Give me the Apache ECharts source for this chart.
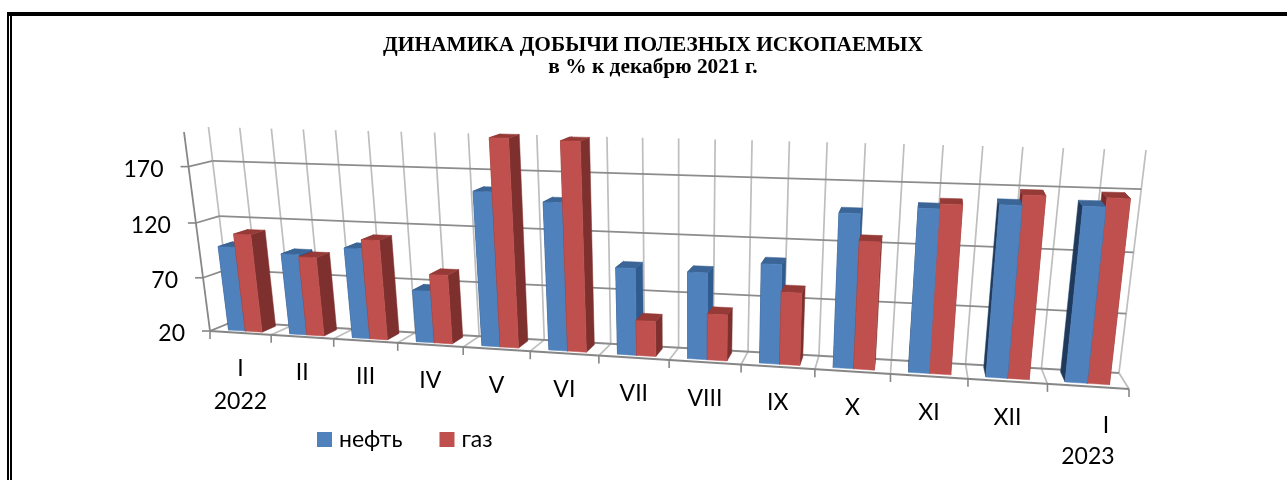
<!DOCTYPE html>
<html><head><meta charset="utf-8">
<style>html,body{margin:0;padding:0;background:#fff}#c{width:1287px;height:480px}</style>
<script src="https://cdn.jsdelivr.net/npm/echarts@6/dist/echarts.min.js"></script>
</head><body><div id="c"></div>
<script>
const categories = ['I','II','III','IV','V','VI','VII','VIII','IX','X','XI','XII','I'];
const years = ['2022','','','','','','','','','','','','2023'];
const oil = [98,94,102,67,156,149,96,95,105,149,155,160,161];
const gas = [110,92,110,82,201,200,51,60,82,127,159,168,168];
const yTicks = [20,70,120,170];
const yMin = 20, yMax = 200;

// perspective frame of the 3D chart box
const back  = quad([232,322],[1119,373],[1146,150],[208.5,127]);
const front = quad([210,331],[1129,389],[1156,158],[184,132]);
function quad(p0,p1,p2,p3){
  const dx1=p1[0]-p2[0],dx2=p3[0]-p2[0],sx=p0[0]-p1[0]+p2[0]-p3[0];
  const dy1=p1[1]-p2[1],dy2=p3[1]-p2[1],sy=p0[1]-p1[1]+p2[1]-p3[1];
  const den=dx1*dy2-dx2*dy1, g=(sx*dy2-dx2*sy)/den, h=(dx1*sy-sx*dy1)/den;
  const a=p1[0]-p0[0]+g*p1[0], b=p3[0]-p0[0]+h*p3[0], c=p0[0];
  const d=p1[1]-p0[1]+g*p1[1], e=p3[1]-p0[1]+h*p3[1], f=p0[1];
  return (u,w)=>{const q=g*u+h*w+1;return [(a*u+b*w+c)/q,(d*u+e*w+f)/q];};
}
function proj(u,w,depth){
  const F=front(u,w),B=back(u,w);
  return [F[0]+(B[0]-F[0])*depth,F[1]+(B[1]-F[1])*depth];
}
// pixel position in the (hidden) cartesian grid -> unit box coords, via the library's scales
function unit(params,px,py){
  const r=params.coordSys;
  return [(px-r.x)/r.width,(r.y+r.height-py)/r.height];
}
const D0=0.2,D1=0.84;
const SLOTS={oil:[0.235,0.51],gas:[0.51,0.785]};
const COL={
  oil:{front:'#4F81BD',top:'#3A6596',right:'#2F5B8E',left:'#1F3A5C'},
  gas:{front:'#C0504D',top:'#963A37',right:'#7D302E',left:'#7A2A28'}
};
function poly(points,fill,z2){
  return {type:'polygon',z2,shape:{points},style:{fill,stroke:fill,lineWidth:0.5}};
}
function barRenderer(key){
  return function(params,api){
    const i=api.value(0),v=api.value(1);
    const band=api.size([1,0])[0];
    const c0=api.coord([i,yMin]),c1=api.coord([i,v]);
    const [f0,f1]=SLOTS[key];
    const U0=unit(params,c0[0]-band/2+f0*band,c0[1]);
    const U1=unit(params,c0[0]-band/2+f1*band,c1[1]);
    const u0=U0[0],u1=U1[0],w0=U0[1],w1=U1[1];
    const P=(u,w,d)=>proj(u,w,d);
    const leftVisible=P(u0,w0,D1)[0]<P(u0,w0,D0)[0];
    const base=leftVisible?(key==='oil'?20:10):(key==='oil'?10:20);
    const col=COL[key];
    const ch=[];
    ch.push(poly([P(u0,w0,D0),P(u0,w0,D1),P(u0,w1,D1),P(u0,w1,D0)],col.left,base));
    ch.push(poly([P(u1,w0,D0),P(u1,w0,D1),P(u1,w1,D1),P(u1,w1,D0)],col.right,base));
    ch.push(poly([P(u0,w1,D0),P(u1,w1,D0),P(u1,w1,D1),P(u0,w1,D1)],col.top,base+1));
    ch.push(poly([P(u0,w0,D0),P(u1,w0,D0),P(u1,w1,D0),P(u0,w1,D0)],col.front,base+2));
    return {type:'group',children:ch};
  };
}
function seg(a,b,stroke,lineWidth){
  return {type:'line',shape:{x1:a[0],y1:a[1],x2:b[0],y2:b[1]},style:{stroke,lineWidth}};
}
const GRID_H='#8C8C8C',GRID_V='#BEBEBE',AXIS='#868686';
const LABEL='Lato';
function text(x,y,t,align){
  return {type:'text',style:{x,y,text:t,fill:'#000',font:'23px '+LABEL,align:align||'center',verticalAlign:'middle'}};
}
function frameRenderer(params,api){
  const ch=[];
  const n=categories.length;
  const band=api.size([1,0])[0];
  const left=api.coord([0,yMin])[0]-band/2;
  const uAt=k=>unit(params,left+k*band,0)[0];
  const wAt=v=>unit(params,0,api.coord([0,v])[1])[1];
  const wMax=wAt(yMax);
  // back wall verticals, every half band
  for(let k=0;k<=2*n;k++){
    const u=uAt(k/2);
    ch.push(seg(proj(u,0,1),proj(u,wMax,1),GRID_V,1.7));
  }
  // floor depth lines
  for(let k=0;k<=n;k++){
    const u=uAt(k);
    ch.push(seg(proj(u,0,0),proj(u,0,1),GRID_V,1.7));
  }
  // horizontal grid on back and left walls + y labels
  yTicks.forEach(v=>{
    const w=wAt(v);
    ch.push(seg(proj(0,w,1),proj(1,w,1),GRID_H,1.8));
    ch.push(seg(proj(0,w,0),proj(0,w,1),GRID_H,1.8));
    const p=proj(0,w,0);
    ch.push(seg([p[0]-8,p[1]],p,AXIS,1.6));
    ch.push(text(p[0]-25,p[1]+2.5,String(v),'right'));
  });
  // front axes
  ch.push(seg(proj(0,0,0),proj(0,wMax,0),AXIS,1.8));
  ch.push(seg(proj(0,0,0),proj(1,0,0),AXIS,2));
  for(let k=0;k<=n;k++){
    const p=proj(uAt(k),0,0);
    ch.push(seg(p,[p[0],p[1]+8],AXIS,1.6));
  }
  // category labels
  categories.forEach((c,k)=>{
    const p=proj(uAt(k+0.5),0,0);
    const last=k===n-1;
    const y=p[1]+36+(last?3:0), shift=last?18:0;
    ch.push(text(p[0]+shift,y,c));
    if(years[k]) ch.push(text(p[0],y+(last?31:33),years[k]));
  });
  return {type:'group',children:ch};
}
const chart=echarts.init(document.getElementById('c'),null,{renderer:'canvas'});
chart.setOption({
  animation:false,
  backgroundColor:'#fff',
  title:{
    text:'ДИНАМИКА ДОБЫЧИ ПОЛЕЗНЫХ ИСКОПАЕМЫХ',
    subtext:'в % к декабрю 2021 г.',
    left:653,top:34,textAlign:'center',itemGap:0,padding:0,
    textStyle:{fontFamily:'Liberation Serif',fontWeight:'bold',fontSize:21.4,color:'#000',lineHeight:22},
    subtextStyle:{fontFamily:'Liberation Serif',fontWeight:'bold',fontSize:21.4,color:'#000',lineHeight:22}
  },
  legend:{
    data:['нефть','газ'],left:317,top:428,itemWidth:15,itemHeight:15,itemGap:37,
    icon:'rect',padding:0,
    textStyle:{fontFamily:LABEL,fontSize:23,color:'#000',padding:[4,0,0,2]}
  },
  grid:{left:210,right:130,top:130,bottom:100},
  xAxis:{type:'category',data:categories.map((c,i)=>c+'-'+i),show:false,boundaryGap:true},
  yAxis:{type:'value',min:yMin,max:yMax,show:false},
  series:[
    {name:'каркас',type:'custom',renderItem:frameRenderer,data:[[0,yMin]],z:1,silent:true,encode:{x:0,y:1}},
    {name:'нефть',type:'custom',renderItem:barRenderer('oil'),data:oil.map((v,i)=>[i,v]),z:2,itemStyle:{color:'#4F81BD'},encode:{x:0,y:1}},
    {name:'газ',type:'custom',renderItem:barRenderer('gas'),data:gas.map((v,i)=>[i,v]),z:2,itemStyle:{color:'#C0504D'},encode:{x:0,y:1}}
  ],
  graphic:[
    {type:'rect',shape:{x:7,y:12,width:2,height:468},style:{fill:'#000'}},
    {type:'rect',shape:{x:10,y:16,width:2,height:464},style:{fill:'#000'}},
    {type:'rect',shape:{x:7,y:12,width:1280,height:4},style:{fill:'#000'}}
  ]
});
</script></body></html>
